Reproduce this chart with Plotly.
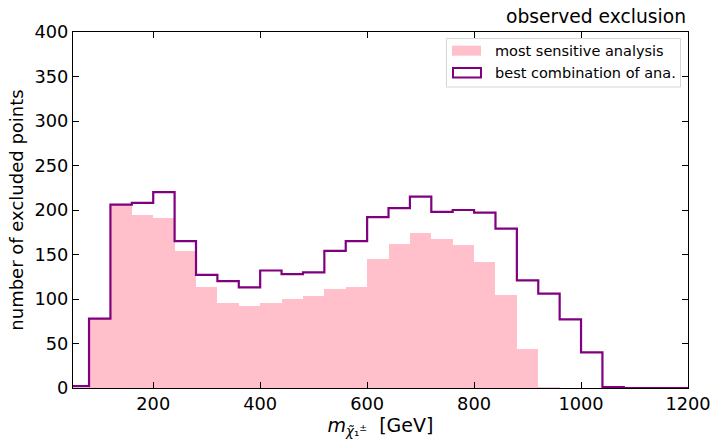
import plotly.graph_objects as go

bin_edges = [40, 80, 120, 160, 200, 240, 280, 320, 360, 400, 440, 480, 520, 560, 600, 640,
             680, 720, 760, 800, 840, 880, 920, 960, 1000, 1040, 1080, 1120, 1160, 1200]
most_sensitive = [0, 78, 206, 194, 191, 154, 114, 96, 92, 95, 100, 103, 111, 114, 145, 162,
                  174, 167, 161, 142, 105, 44, 1, 0, 0, 0, 0, 0, 0]
best_combination = [2, 78, 206, 208, 220, 165, 127, 120, 113, 132, 128, 130, 154, 165, 192, 202,
                    215, 198, 200, 197, 179, 121, 106, 77, 40, 1, 0, 0, 0]
x_ticks = [200, 400, 600, 800, 1000, 1200]
y_ticks = [0, 50, 100, 150, 200, 250, 300, 350, 400]
legend_labels = ["most sensitive analysis", "best combination of ana."]

centers = [(a + b) / 2 for a, b in zip(bin_edges[:-1], bin_edges[1:])]
widths = [b - a for a, b in zip(bin_edges[:-1], bin_edges[1:])]

# step outline for best combination
sx = [bin_edges[0]] + bin_edges + [bin_edges[-1]]
sy = [0] + best_combination + [best_combination[-1], 0]

PINK = "#FFC0CB"
PURPLE = "#800080"
FONT = "DejaVu Sans"

W, H = 713, 441
ML, MR, MT, MB = 73, 25, 32, 53
PW, PH = W - ML - MR, H - MT - MB


def px(xp):
    return (xp - ML) / PW


def py(yp):
    return 1 - (yp - MT) / PH


fig = go.Figure()
fig.add_trace(go.Bar(x=centers, y=most_sensitive, width=widths, marker=dict(color=PINK, line=dict(width=0)),
                     name=legend_labels[0], showlegend=False))
fig.add_trace(go.Scatter(x=sx, y=sy, mode="lines", line=dict(color=PURPLE, width=2.2, shape="hv"),
                         name=legend_labels[1], showlegend=False, hoverinfo="skip"))

axis_common = dict(showgrid=False, zeroline=False, showline=True, linecolor="black", linewidth=1,
                   ticks="inside", ticklen=6, tickwidth=1, tickcolor="black", mirror="ticks",
                   automargin=False,
                   tickfont=dict(family=FONT, size=17.8, color="black"))

fig.update_xaxes(range=[50, 1200], tickvals=x_ticks, **axis_common,
                 title=dict(text="<i>m</i><sub><i>χ̃</i>₁<sup>±</sup></sub>  [GeV]",
                            font=dict(family=FONT, size=19, color="black"), standoff=2))
fig.update_yaxes(range=[0, 400], tickvals=y_ticks, **axis_common,
                 title=dict(text="number of excluded points",
                            font=dict(family=FONT, size=18, color="black"), standoff=6))

fig.add_annotation(text="observed exclusion", xref="paper", yref="paper", x=1, y=1,
                   xanchor="right", yanchor="bottom", yshift=3, showarrow=False,
                   font=dict(family=FONT, size=18.7, color="black"))

# manual legend (box, symbols, labels)
fig.add_shape(type="rect", xref="paper", yref="paper", x0=px(446.5), x1=px(680.5), y0=py(87), y1=py(38.5),
              line=dict(color="#d6d6d6", width=1), fillcolor="rgba(255,255,255,0.8)", layer="above")
fig.add_shape(type="rect", xref="paper", yref="paper", x0=px(452), x1=px(481), y0=py(55.7), y1=py(45.7),
              line=dict(width=0), fillcolor=PINK, layer="above")
fig.add_shape(type="rect", xref="paper", yref="paper", x0=px(453), x1=px(481), y0=py(77.5), y1=py(68),
              line=dict(color=PURPLE, width=2), fillcolor="rgba(0,0,0,0)", layer="above")
for label, yc in zip(legend_labels, [51, 73]):
    fig.add_annotation(text=label, xref="paper", yref="paper", x=px(493), y=py(yc),
                       xanchor="left", yanchor="middle", showarrow=False,
                       font=dict(family=FONT, size=14.5, color="black"))

fig.update_layout(
    width=W, height=H,
    margin=dict(l=ML, r=MR, t=MT, b=MB),
    paper_bgcolor="white", plot_bgcolor="white",
    barmode="overlay", bargap=0,
    showlegend=False,
)

fig.write_html("out.html")
